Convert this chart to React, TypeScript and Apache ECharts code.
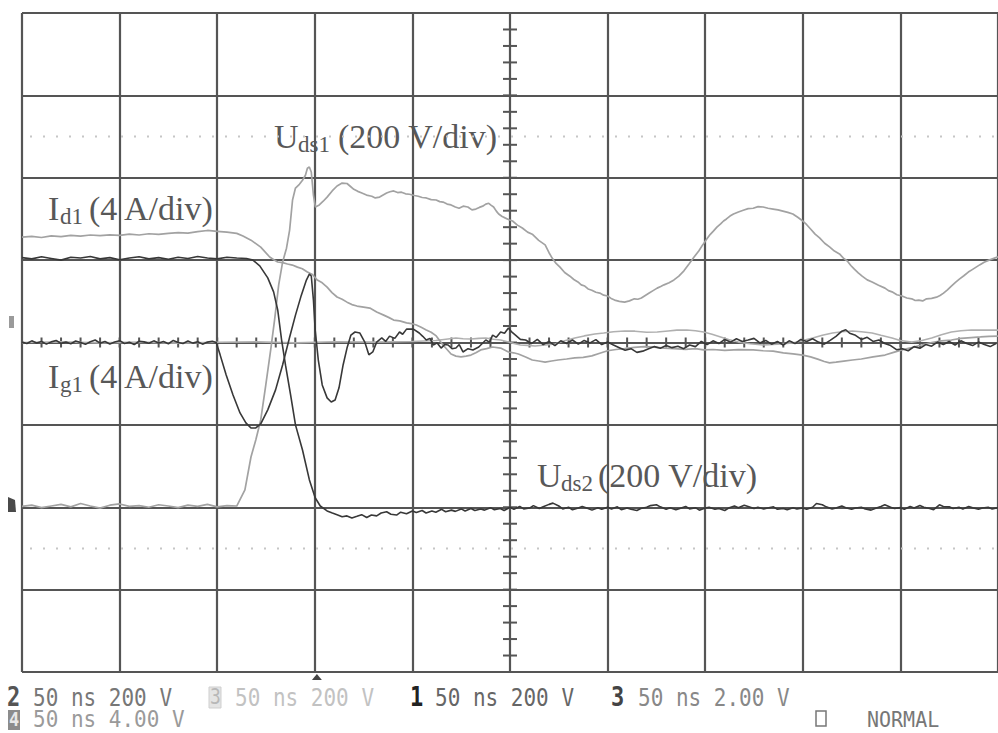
import React, { useEffect, useRef } from "react";
import * as echarts from "echarts";

// Oscilloscope capture: 50 ns/div, 10 x 8 divisions.
const TIME_MIN = 0;
const TIME_MAX = 500;
const TIME_DIV = 50;
const DIV_MIN = -4;
const DIV_MAX = 4;

// channel scale (units per division) and zero position (divisions from centre)
const UDS_SCALE = 200;
const UDS_ZERO = -2;
const I_SCALE = 4;
const I_ZERO = 0;

// U_ds1 in V
const uds1: [number, number][] = [
  [0, 2], [5, 5], [10, -1], [15, 3], [20, 7], [25, 1], [30, 9], [35, 3], [40, -2], [45, 5], [50, 8], [55, 2],
  [60, 4], [65, 0], [70, 6], [75, 3], [80, -1], [85, 5], [90, 2], [95, 7], [100, 1], [105, 4], [110, 3],
  [114.2, 42], [117.3, 122], [119.8, 164], [122.3, 212], [124.9, 297], [127.4, 382], [129.4, 455], [131.5, 540],
  [133.5, 595], [135.5, 629], [137.1, 673], [138.6, 746], [140.1, 775], [142.1, 784], [143.7, 794], [145.2, 806],
  [146.2, 823], [147.2, 826], [148.2, 814], [149.3, 758], [150.3, 729], [152.3, 734], [154.3, 743], [156.3, 753],
  [158.9, 768], [161.4, 780], [164, 787], [166.5, 786], [168, 780], [170, 772], [172, 767], [174.1, 763], [176.5, 758],
  [179.2, 755], [181, 751], [183.2, 753], [185, 758], [186.8, 763], [188.5, 766], [190.4, 768], [192.4, 764],
  [194.4, 765], [196.5, 761], [198.5, 760], [201, 757], [203, 755], [205, 752], [207.1, 751], [209.6, 747],
  [212.2, 746], [214, 742], [215.7, 741], [217.8, 736], [219.8, 734], [222, 729], [223.9, 726], [226, 731],
  [228.4, 729], [230.5, 722], [232.5, 724], [234.3, 728], [236, 731], [237.6, 736], [239.1, 738], [240.4, 733],
  [241.6, 729], [243, 719], [244.2, 712], [246, 706], [247.7, 702], [249.5, 698], [251.3, 695], [253.8, 685],
  [256.3, 678], [259, 668], [261.4, 663], [264.7, 648], [268, 637], [270, 618], [271.6, 605], [273.6, 592],
  [275.6, 583], [278, 570], [280.7, 561], [282.7, 553], [284.8, 547], [286.5, 540], [288.3, 537], [290, 530],
  [291.9, 527], [294, 522], [296, 520], [298, 515], [300, 513], [301.8, 507], [303.6, 503], [306, 500],
  [308.7, 498], [311.2, 501], [313.7, 506], [315.5, 505], [317.3, 508], [319.3, 514], [321.3, 520], [323.3, 526],
  [325.4, 532], [327.2, 536], [328.9, 540], [331.5, 545], [334, 552], [336.5, 561], [339.1, 574], [341.6, 590],
  [344.2, 607], [346.7, 622], [348.7, 637], [350.8, 651], [352.5, 662], [354.3, 671], [356, 680], [357.9, 688],
  [359.4, 695], [360.9, 700], [362.7, 707], [364.5, 712], [367, 717], [369.5, 721], [372, 725], [374.6, 726],
  [377.1, 730], [379.7, 729], [382.2, 726], [384.8, 724], [387.3, 722], [389.8, 719], [392.3, 716], [394.9, 712],
  [397.4, 704], [400, 695], [402, 686], [404.1, 675], [406.3, 663], [408.6, 654], [411.2, 641], [413.7, 632],
  [416.2, 622], [418.8, 615], [420.8, 605], [422.8, 598], [424.6, 587], [426.4, 578], [428.4, 569], [430.4, 561],
  [433, 552], [435.5, 547], [438.8, 539], [442.1, 532], [443.9, 526], [445.7, 523], [448.2, 516], [450.8, 513],
  [453.3, 508], [455.8, 506], [457.6, 502], [459.4, 503], [461.4, 501], [463.4, 506], [466, 507], [468.5, 510],
  [470.3, 514], [472.1, 520], [474.1, 528], [476.1, 537], [478.2, 546], [480.2, 554], [482.5, 562], [484.8, 571],
  [486.8, 577], [488.8, 583], [490.8, 589], [492.9, 595], [495.4, 600], [500, 608],
];

// I_d1 in A
const id1: [number, number][] = [
  [0, 5.12], [5, 5.15], [10, 5.1], [15, 5.18], [20, 5.14], [25, 5.2], [30, 5.17], [35, 5.22], [40, 5.19],
  [45, 5.23], [50, 5.2], [55, 5.26], [60, 5.22], [65, 5.28], [70, 5.25], [75, 5.3], [80, 5.34], [85, 5.31],
  [90, 5.38], [95, 5.44], [100, 5.4], [105, 5.36], [110, 5.3], [113.2, 5.17], [117.3, 4.97], [122.3, 4.63],
  [126.9, 4.15], [129, 4.02], [131, 3.91], [133.5, 3.88], [136, 3.81], [138.5, 3.76], [141.1, 3.66], [143.6, 3.58],
  [146.2, 3.42], [148.8, 3.3], [151.3, 3.03], [153.8, 2.9], [156.3, 2.69], [158.8, 2.42], [161.4, 2.21],
  [164, 2.1], [166.5, 1.96], [169, 1.84], [171.6, 1.77], [175, 1.72], [178.2, 1.67], [181.7, 1.48], [185.3, 1.33],
  [187.8, 1.22], [190.4, 1.09], [193.5, 1.05], [197, 0.95], [199.5, 0.92], [202, 0.85], [204.5, 0.74],
  [207.1, 0.61], [209.6, 0.5], [212.2, 0.32], [215.7, -0.12], [219.8, -0.56], [222.3, -0.66], [224.9, -0.7],
  [227.5, -0.66], [230, -0.61], [232.5, -0.5], [235, -0.36], [238, -0.3], [241.1, -0.22], [245.2, -0.27],
  [249.2, -0.46], [251.8, -0.5], [254.3, -0.56], [258, -0.7], [261.4, -0.85], [264.7, -0.9], [268, -0.95],
  [271.3, -0.9], [274.6, -0.85], [279, -0.8], [283.2, -0.75], [287.5, -0.72], [291.9, -0.65], [296, -0.52],
  [300, -0.4], [304.3, -0.34], [308.7, -0.3], [313.7, -0.24], [318.8, -0.2], [323.9, -0.22], [329, -0.27],
  [334, -0.3], [340, -0.33], [345, -0.3], [349.2, -0.36], [354, -0.34], [360, -0.38], [367, -0.35],
  [374.6, -0.36], [379.7, -0.4], [384.8, -0.42], [390, -0.5], [395, -0.55], [400, -0.61], [404, -0.7],
  [408, -0.82], [411, -0.92], [413.7, -0.99], [417, -0.95], [421, -0.9], [425.4, -0.85], [430, -0.8],
  [436, -0.7], [442.1, -0.61], [446.5, -0.48], [450.8, -0.36], [455.8, -0.25], [460.9, -0.12], [466, 0],
  [471, 0.08], [476.1, 0.12], [481, 0.2], [486.3, 0.24], [491, 0.27], [495.4, 0.3], [500, 0.31],
];

// reference channel (light), current scale, A
const ref3: [number, number][] = [
  [0, 0], [20, 0.03], [40, -0.02], [60, 0.02], [80, -0.03], [100, 0.01], [120, 0.03], [140, -0.02],
  [160, 0.04], [180, 0.02], [200, 0.05], [212, 0.1], [222.3, 0.22], [226, 0.18], [230, 0.17], [234, 0.2],
  [237.6, 0.22], [241.5, 0.16], [245.2, 0.12], [249.2, 0.02], [252, -0.05], [255.3, -0.12], [259, -0.14],
  [262.9, -0.17], [268, -0.12], [273.1, -0.07], [278, 0.08], [283.2, 0.22], [288, 0.32], [293.4, 0.41],
  [298, 0.46], [303, 0.52], [308.7, 0.56], [314, 0.55], [320, 0.5], [325.4, 0.51], [331, 0.56], [335.5, 0.6],
  [340.6, 0.61], [345, 0.57], [349.2, 0.51], [353.5, 0.4], [357.9, 0.27], [362, 0.15], [367, 0.02],
  [373, -0.06], [379.7, -0.12], [387, -0.08], [394.9, -0.02], [400, 0.1], [405.1, 0.22], [410, 0.35],
  [415.2, 0.46], [420, 0.52], [425.4, 0.56], [430, 0.52], [435.5, 0.46], [440, 0.35], [445.7, 0.22],
  [450, 0.1], [455.8, 0.02], [461, 0.1], [466, 0.22], [471, 0.38], [476.1, 0.51], [481, 0.57], [486.3, 0.61],
  [491, 0.6], [495.4, 0.61], [500, 0.6],
];

// U_ds2 in V
const uds2: [number, number][] = [
  [0, 606], [5, 603], [10, 608], [15, 604], [20, 600], [25, 607], [30, 605], [35, 609], [40, 603], [45, 606],
  [50, 601], [55, 605], [60, 608], [65, 603], [70, 606], [75, 602], [80, 607], [85, 604], [90, 609], [95, 605],
  [100, 603], [105, 607], [110, 605], [115, 604], [118.3, 600], [121.8, 586], [125.9, 557], [128.9, 523],
  [131, 479], [133, 406], [135, 345], [137.6, 273], [140.1, 200], [143.7, 139], [147.2, 67], [150.2, 23],
  [152.8, 3], [156.3, -9], [159, -14], [161.4, -18], [164, -23], [166.5, -21], [169, -26], [171.6, -22],
  [174, -18], [176.6, -25], [179, -19], [181.7, -21], [184, -14], [186.8, -11], [189, -17], [191.9, -19],
  [194, -12], [197, -16], [200, -9], [202, -13], [205, -8], [207, -14], [210, -9], [212, -12], [215, -5],
  [217, -11], [220, -7], [222, -10], [225, -4], [227, -9], [230, -3], [232, -8], [235, -4], [237, -7],
  [240, -1], [242, -6], [245, -3], [247, -8], [250, 0], [252, -5], [255, 2], [257, -4], [260, -2], [262, 4],
  [265, -3], [267, 1], [270, 7], [272, 10], [275, 3], [277, -4], [280, 0], [282, -6], [285, -2], [287, 2],
  [290, -3], [292, -7], [295, -1], [297, -5], [300, 0], [302, -4], [305, 1], [307, -6], [310, -2], [312, -5],
  [315, -8], [317, -3], [320, 0], [322, 4], [325, 6], [327, 1], [330, -5], [332, -1], [335, -6], [337, -3],
  [340, 2], [342, -4], [345, -1], [347, -7], [350, -2], [352, 0], [355, -5], [357, -3], [360, -8], [362, -2],
  [365, 3], [367, -1], [370, 5], [372, 2], [375, -3], [377, 0], [380, -4], [382, -2], [385, 1], [387, -5],
  [390, -3], [392, -6], [395, -1], [397, -4], [400, -2], [402, -5], [405, 0], [407, 9], [410, 6], [412, 1],
  [415, -4], [417, -2], [420, 3], [422, -1], [425, -5], [427, -2], [430, 0], [432, -4], [435, -7], [437, -3],
  [440, 2], [442, 6], [445, 0], [447, -3], [450, -1], [452, -5], [455, 2], [457, -2], [460, 4], [462, 0],
  [465, -3], [467, -6], [470, 6], [472, 2], [475, 1], [477, -3], [480, 0], [482, -4], [485, 2], [487, -1],
  [490, -5], [492, -2], [495, 0], [497, -4], [500, -1],
];

// I_g1 in A
const ig1: [number, number][] = [
  [0, 0.02], [2.5, -0.05], [5, 0.08], [7.5, -0.02], [10, 0.05], [12.5, -0.08], [15, 0.03], [17.5, 0.1],
  [20, -0.04], [22.5, 0.02], [25, -0.06], [27.5, 0.07], [30, 0], [32.5, -0.09], [35, 0.04], [37.5, 0.12],
  [40, -0.03], [42.5, 0.05], [45, -0.07], [47.5, 0.02], [50, 0.09], [52.5, -0.05], [55, 0.01], [57.5, -0.1],
  [60, 0.06], [62.5, 0.03], [65, -0.04], [67.5, 0.08], [70, -0.02], [72.5, 0.05], [75, -0.06], [77.5, 0.1],
  [80, 0], [82.5, -0.05], [85, 0.07], [87.5, -0.03], [90, 0.04], [92.5, -0.08], [95, 0.02], [97.5, 0.06],
  [99.5, 0], [101.5, -0.6], [104.6, -1.58], [108.1, -2.55], [111.7, -3.42], [114.7, -3.9], [117.3, -4.15],
  [119.8, -4.15], [122.3, -3.95], [125.9, -3.27], [129.9, -2.3], [133.5, -1.09], [137, 0.22], [140.1, 1.33],
  [143.1, 2.3], [145.7, 3.03], [147.2, 3.32], [148.2, 3.23], [149.3, 2.06], [150.2, 0.6], [151.8, -0.85],
  [153.8, -2.06], [156.3, -2.69], [158.4, -2.89], [160.4, -2.79], [162.4, -2.2], [164.5, -1.09], [166.5, -0.27],
  [168.5, 0.36], [170.6, 0.51], [173.1, 0.46], [175.6, 0.02], [177.7, -0.6], [179.7, -0.46], [181.7, 0.02],
  [184.3, 0.22], [186.3, 0.05], [188.3, 0.31], [191, 0.2], [193.4, 0.51], [195, 0.4], [197, 0.65], [200.5, 0.65],
  [203.5, 0.46], [205.3, 0.3], [207.1, 0.12], [209, 0.2], [210.7, -0.12], [212.7, -0.02], [214.7, -0.27],
  [216.5, -0.1], [218.3, -0.12], [220.3, -0.3], [222.3, -0.27], [224, -0.1], [225.9, -0.46], [228.5, -0.3],
  [231, -0.36], [234, -0.22], [235.8, -0.05], [237.6, 0.12], [239.5, 0.02], [241.1, 0.36], [243, 0.25],
  [245.2, 0.51], [247.2, 0.45], [249.2, 0.7], [251, 0.5], [252.8, 0.36], [255.3, 0.15], [258, 0.12],
  [261, -0.05], [264, 0.15], [267, -0.1], [270, 0.05], [273, -0.15], [276, 0.08], [279, -0.05], [282, 0.12],
  [285, -0.08], [288, 0.1], [291, -0.02], [294, 0.14], [297, -0.1], [300, 0.02], [303, -0.12], [306, -0.25],
  [309, -0.38], [312, -0.3], [315, -0.48], [318, -0.42], [321, -0.3], [324, -0.2], [327, -0.28], [330, -0.15],
  [333, -0.25], [336, -0.18], [339, -0.3], [342, -0.12], [345, -0.2], [348, 0.05], [351, -0.1], [354, 0.08],
  [357, -0.05], [360, 0.15], [363, 0.02], [366, 0.18], [369, 0.05], [372, 0.12], [375, 0.2], [378, -0.02],
  [381, 0.1], [384, -0.08], [387, 0.05], [390, -0.12], [393, 0.08], [396, -0.05], [399, 0.15], [402, 0.05],
  [405, 0.18], [408, 0.02], [411, -0.08], [414, 0.1], [417, 0.3], [420, 0.55], [422, 0.62], [424, 0.45],
  [427, 0.35], [430, 0.15], [433, 0.25], [436, 0.05], [439, 0.12], [442, -0.05], [445, -0.15], [448, -0.35],
  [451, -0.3], [454, -0.4], [457, -0.2], [460, -0.28], [463, -0.1], [466, -0.18], [469, 0.02], [472, -0.1],
  [475, 0.05], [478, -0.12], [481, 0.08], [484, -0.05], [487, -0.15], [490, 0.02], [493, -0.1], [496, -0.2],
  [499, -0.05],
];

const TRIGGER_NS = 150;
const DOTTED_LEVELS = [2.5, -2.5];

const GRID = { left: 22, top: 13, width: 983, height: 659 };

const GRID_COLOR = "#555555";
const DARK = "#383838";
const LIGHT = "#a2a2a2";
const LABEL_COLOR = "#585858";
const SERIF = '"Liberation Serif", "Times New Roman", serif';
const MONO = '"DejaVu Sans Mono", "Liberation Mono", monospace';

const toDiv = (pts: [number, number][], scale: number, zero: number) =>
  pts.map(([t, v]) => [t, v / scale + zero]);

function traceSeries(name: string, pts: number[][], color: string, width: number, z: number) {
  return {
    name,
    type: "line",
    data: pts,
    showSymbol: false,
    symbol: "none",
    z,
    silent: true,
    lineStyle: { color, width },
  };
}

function label(x: number, yMid: number, main: string, sub: string, rest: string, subX: number, restX: number) {
  return [
    { type: "text", x, y: yMid, style: { text: main, font: `34px ${SERIF}`, fill: LABEL_COLOR, verticalAlign: "middle" } },
    { type: "text", x: subX, y: yMid + 8, style: { text: sub, font: `23px ${SERIF}`, fill: LABEL_COLOR, verticalAlign: "middle" } },
    { type: "text", x: restX, y: yMid, style: { text: rest, font: `34px ${SERIF}`, fill: LABEL_COLOR, verticalAlign: "middle" } },
  ];
}

function mono(x: number, y: number, text: string, fill: string, bold = false, size = 21, sy = 1.2) {
  return {
    type: "text",
    x,
    y,
    scaleY: sy,
    style: { text, font: `${bold ? "bold " : ""}${size}px ${MONO}`, fill, verticalAlign: "middle" },
  };
}

export default function App() {
  const ref = useRef<HTMLDivElement>(null);

  useEffect(() => {
    if (!ref.current) return;
    const chart = echarts.init(ref.current, undefined, { renderer: "svg" });

    const hTicks: number[][] = [];
    for (let t = TIME_MIN; t <= TIME_MAX; t += TIME_DIV / 5) hTicks.push([t, 0]);
    const vTicks: number[][] = [];
    for (let k = DIV_MIN * 5; k <= DIV_MAX * 5; k++) vTicks.push([(TIME_MIN + TIME_MAX) / 2, k / 5]);

    const trigX = GRID.left + ((TRIGGER_NS - TIME_MIN) / (TIME_MAX - TIME_MIN)) * GRID.width;
    const gridBottom = GRID.top + GRID.height;

    const option: any = {
      animation: false,
      backgroundColor: "#ffffff",
      grid: { ...GRID, containLabel: false },
      xAxis: {
        type: "value",
        min: TIME_MIN,
        max: TIME_MAX,
        interval: TIME_DIV,
        axisLine: { show: false },
        axisTick: { show: false },
        axisLabel: { show: false },
        splitLine: { show: true, lineStyle: { color: GRID_COLOR, width: 2.2 } },
      },
      yAxis: {
        type: "value",
        min: DIV_MIN,
        max: DIV_MAX,
        interval: 1,
        axisLine: { show: false },
        axisTick: { show: false },
        axisLabel: { show: false },
        splitLine: { show: true, lineStyle: { color: GRID_COLOR, width: 2.2 } },
      },
      series: [
        {
          type: "custom",
          silent: true,
          z: 1,
          data: DOTTED_LEVELS.map((v) => [v]),
          renderItem: (_p: any, api: any) => {
            const a = api.coord([TIME_MIN, api.value(0)]);
            const b = api.coord([TIME_MAX, api.value(0)]);
            return {
              type: "line",
              shape: { x1: a[0] + 8, y1: a[1], x2: b[0], y2: b[1] },
              style: { stroke: "#c6c6c6", lineWidth: 2, lineDash: [2, 11] },
            };
          },
        },
        {
          type: "custom",
          silent: true,
          z: 1,
          data: hTicks,
          renderItem: (_p: any, api: any) => {
            const c = api.coord([api.value(0), api.value(1)]);
            return {
              type: "line",
              shape: { x1: c[0], y1: c[1] - 5, x2: c[0], y2: c[1] + 5 },
              style: { stroke: GRID_COLOR, lineWidth: 2 },
            };
          },
        },
        {
          type: "custom",
          silent: true,
          z: 1,
          data: vTicks,
          renderItem: (_p: any, api: any) => {
            const c = api.coord([api.value(0), api.value(1)]);
            return {
              type: "line",
              shape: { x1: c[0] - 7, y1: c[1], x2: c[0] + 7, y2: c[1] },
              style: { stroke: GRID_COLOR, lineWidth: 2 },
            };
          },
        },
        traceSeries("Ref3", toDiv(ref3, I_SCALE, I_ZERO), "#b0b0b0", 1.6, 2),
        traceSeries("Uds1", toDiv(uds1, UDS_SCALE, UDS_ZERO), LIGHT, 1.7, 3),
        traceSeries("Id1", toDiv(id1, I_SCALE, I_ZERO), LIGHT, 1.7, 3),
        traceSeries("Uds2", toDiv(uds2, UDS_SCALE, UDS_ZERO), DARK, 1.6, 4),
        traceSeries("Ig1", toDiv(ig1, I_SCALE, I_ZERO), DARK, 1.6, 4),
      ],
      graphic: [
        ...label(274, 136, "U", "ds1", "(200 V/div)", 298, 338),
        ...label(48, 208, "I", "d1", "(4 A/div)", 60, 89),
        ...label(48, 376, "I", "g1", "(4 A/div)", 60, 89),
        ...label(537, 475, "U", "ds2", "(200 V/div)", 561, 598),
        // trigger marker
        {
          type: "polygon",
          shape: { points: [[trigX - 5, gridBottom + 8], [trigX + 5, gridBottom + 8], [trigX, gridBottom + 2]] },
          style: { fill: "#444" },
        },
        // ground markers on the left edge
        { type: "rect", shape: { x: 9, y: 316, width: 5, height: 12 }, style: { fill: "#9a9a9a" } },
        {
          type: "polygon",
          shape: { points: [[8, 497], [15, 500], [16, 512], [8, 512]] },
          style: { fill: "#4a4a4a" },
        },
        // status line
        mono(7, 697, "2", "#555", true, 22),
        mono(33, 697, "50 ns 200 V", "#777"),
        { type: "rect", shape: { x: 209, y: 687, width: 12, height: 21 }, style: { fill: "#e4e4e4", stroke: "#cfcfcf", lineWidth: 1 } },
        mono(210, 697, "3", "#b8b8b8", false, 18),
        mono(235, 697, "50 ns 200 V", "#c2c2c2"),
        mono(410, 697, "1", "#222", true, 22),
        mono(435, 697, "50 ns 200 V", "#666"),
        mono(611, 697, "3", "#444", true, 22),
        mono(638, 697, "50 ns 2.00 V", "#888"),
        { type: "rect", shape: { x: 8, y: 710, width: 12, height: 20 }, style: { fill: "#8c8c8c" } },
        mono(9, 719, "4", "#e8e8e8", true, 17, 1.1),
        mono(33, 719, "50 ns 4.00 V", "#9a9a9a", false, 21, 1.1),
        { type: "rect", shape: { x: 816, y: 711, width: 10, height: 15 }, style: { fill: "none", stroke: "#777", lineWidth: 1.5 } },
        mono(867, 719, "NORMAL", "#777", false, 20, 1.1),
      ],
    };

    chart.setOption(option);
    return () => chart.dispose();
  }, []);

  return (
    <div
      ref={ref}
      style={{ position: "fixed", left: 0, top: 0, width: 998, height: 733, background: "#fff" }}
    />
  );
}
